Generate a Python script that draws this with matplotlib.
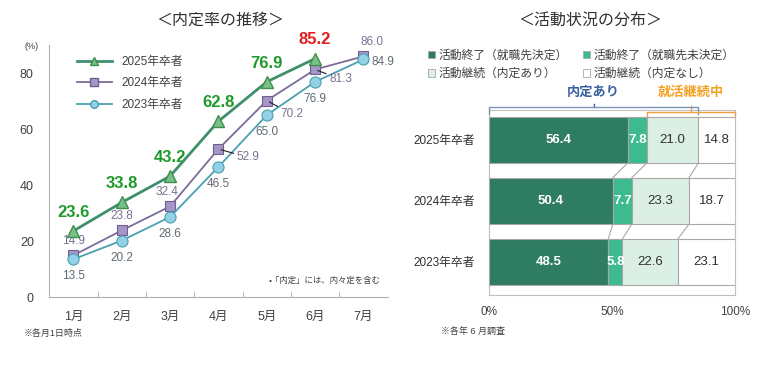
import numpy as np
import matplotlib
matplotlib.use('Agg')
import matplotlib.pyplot as plt
from matplotlib.patches import Patch
from matplotlib.lines import Line2D

plt.rcParams['font.family'] = ['Liberation Sans', 'Noto Sans CJK JP', 'DejaVu Sans']

# ---- data: left chart (内定率の推移)
months = ['1月', '2月', '3月', '4月', '5月', '6月', '7月']
rate_2025 = [23.6, 33.8, 43.2, 62.8, 76.9, 85.2]
rate_2024 = [14.9, 23.8, 32.4, 52.9, 70.2, 81.3, 86.0]
rate_2023 = [13.5, 20.2, 28.6, 46.5, 65.0, 76.9, 84.9]

# ---- data: right chart (活動状況の分布)
years = ['2025年卒者', '2024年卒者', '2023年卒者']
done_decided = [56.4, 50.4, 48.5]
done_undecided = [7.8, 7.7, 5.8]
cont_offer = [21.0, 23.3, 22.6]
cont_nooffer = [14.8, 18.7, 23.1]
status_names = ['活動終了（就職先決定）', '活動終了（就職先未決定）',
                '活動継続（内定あり）', '活動継続（内定なし）']

fig = plt.figure(figsize=(7.8, 3.7), dpi=100)
fig.patch.set_facecolor('white')

# ================= left chart
ax = fig.add_axes([0.063, 0.197, 0.434, 0.681])
x = np.arange(1, len(months) + 1)
c25, c24, c23 = '#3f8f6a', '#7d6b98', '#4aa0b0'
ax.plot(x[:len(rate_2025)], rate_2025, color=c25, lw=2.0, marker='^', ms=9,
        mfc='#78bf8a', mec='#3f8f4a', mew=1.0, zorder=4)
ax.plot(x, rate_2024, color=c24, lw=1.3, marker='s', ms=7.5,
        mfc='#a596c8', mec='#6f5f8f', mew=0.8, zorder=3)
ax.plot(x, rate_2023, color=c23, lw=1.3, marker='o', ms=8,
        mfc='#92d2e6', mec='#4aa0b0', mew=0.8, zorder=3)

ax.set_xlim(0.5, 7.5)
ax.set_ylim(0, 90)
ax.set_yticks([0, 20, 40, 60, 80])
ax.set_xticks(x)
ax.set_xticklabels(months)
ax.set_xticks(np.arange(1.5, 7.5, 1), minor=True)
ax.tick_params(axis='x', which='major', length=0, pad=10, labelsize=9, labelcolor='#404040')
ax.tick_params(axis='x', which='minor', length=4, direction='in', color='#b0b0b0')
ax.tick_params(axis='y', length=0, pad=11, labelsize=9, labelcolor='#404040')
for s in ['top', 'right']:
    ax.spines[s].set_visible(False)
ax.spines['left'].set_color('#b0b0b0')
ax.spines['bottom'].set_color('#b0b0b0')

# value labels 2025
for i, v in enumerate(rate_2025):
    col = '#e02020' if i == len(rate_2025) - 1 else '#1f9a2a'
    ax.annotate(f'{v:.1f}', (x[i], v), xytext=(0, 8), textcoords='offset points',
                ha='center', va='bottom', fontsize=12, fontweight='bold', color=col)

# 2024 labels: offsets in points
off24 = [(0, 6, 'bottom', 'center'), (0, 6, 'bottom', 'center'), (-2, 6, 'bottom', 'center'),
         (13, -6, 'center', 'left'), (10, -10, 'center', 'left'), (10, -7, 'center', 'left'),
         (6, 6, 'bottom', 'center')]
for i, v in enumerate(rate_2024):
    dx, dy, va, ha = off24[i]
    lead = None
    if i in (3, 4, 5):
        lead = dict(arrowstyle='-', color='#202020', lw=0.8, shrinkA=0, shrinkB=2)
    ax.annotate(f'{v:.1f}', (x[i], v), xytext=(dx, dy), textcoords='offset points',
                ha=ha, va=va, fontsize=8.5, color='#7b7090', arrowprops=lead)

# 2023 labels
off23 = [(0, -8, 'top', 'center'), (0, -8, 'top', 'center'), (0, -8, 'top', 'center'),
         (0, -8, 'top', 'center'), (0, -8, 'top', 'center'), (0, -8, 'top', 'center'),
         (6, -2, 'center', 'left')]
for i, v in enumerate(rate_2023):
    dx, dy, va, ha = off23[i]
    ax.annotate(f'{v:.1f}', (x[i], v), xytext=(dx, dy), textcoords='offset points',
                ha=ha, va=va, fontsize=8.5, color='#5f6b72')

leg_handles = [
    Line2D([], [], color=c25, lw=2.0, marker='^', ms=6, mfc='#78bf8a', mec='#3f8f4a'),
    Line2D([], [], color=c24, lw=1.3, marker='s', ms=5.5, mfc='#a596c8', mec='#6f5f8f'),
    Line2D([], [], color=c23, lw=1.3, marker='o', ms=5.5, mfc='#92d2e6', mec='#4aa0b0'),
]
ax.legend(leg_handles, ['2025年卒者', '2024年卒者', '2023年卒者'], loc='upper left',
          bbox_to_anchor=(0.05, 1.0), frameon=False, fontsize=8.5, handlelength=3,
          labelspacing=0.8, labelcolor='#404040')

ax.text(0.98, 0.05, '•「内定」には、内々定を含む', transform=ax.transAxes, ha='right',
        va='bottom', fontsize=6, color='#404040')
fig.text(0.032, 0.873, '(%)', fontsize=6.5, color='#404040', ha='left', va='center')
fig.text(0.282, 0.945, '＜内定率の推移＞', fontsize=11.5, ha='center', va='center', color='#303030')
fig.text(0.03, 0.098, '※各月1日時点', fontsize=6.5, color='#404040', ha='left', va='center')

# ================= right chart
bx = fig.add_axes([0.627, 0.203, 0.315, 0.500])
ypos = np.array([2, 1, 0])
parts = [done_decided, done_undecided, cont_offer, cont_nooffer]
fills = ['#2e7d63', '#3dbb8f', '#dcefe5', '#ffffff']
txtcol = ['white', 'white', '#303030', '#303030']
bh = 0.76
left = np.zeros(3)
bounds = []
for k, vals in enumerate(parts):
    vals = np.array(vals)
    bx.barh(ypos, vals, left=left, height=bh, color=fills[k], edgecolor='#a8a8a8',
            linewidth=0.8, zorder=3)
    for j in range(3):
        fw = 'bold' if k < 2 else 'normal'
        bx.text(left[j] + vals[j] / 2, ypos[j], f'{vals[j]:.1f}', ha='center', va='center',
                fontsize=9.5, color=txtcol[k], fontweight=fw, zorder=5)
    left = left + vals
    bounds.append(left.copy())

# connector lines between bars
for b in bounds[:-1]:
    for j in range(2):
        bx.plot([b[j], b[j + 1]], [ypos[j] - bh / 2, ypos[j + 1] + bh / 2],
                color='#a8a8a8', lw=0.8, zorder=2)

bx.set_xlim(0, 100)
bx.set_ylim(-0.54, 2.49)
bx.set_xticks([0, 50, 100])
bx.set_xticklabels(['0%', '50%', '100%'])
bx.set_yticks(ypos)
bx.set_yticklabels(years)
bx.tick_params(axis='x', length=0, pad=8, labelsize=8.5, labelcolor='#404040')
bx.tick_params(axis='y', length=0, pad=10, labelsize=8.5, labelcolor='#303030')
for s in bx.spines.values():
    s.set_color('#c0c0c0')

# brackets above bars
offer_end = done_decided[0] + done_undecided[0] + cont_offer[0]
cont_start = done_decided[0] + done_undecided[0]
yb1, yb2 = 2.53, 2.45
bx.plot([0, 0, offer_end, offer_end], [yb1 - 0.1, yb1, yb1, yb1 - 0.1],
        color='#7d93b8', lw=1.0, clip_on=False, zorder=6)
bx.plot([offer_end / 2] * 2, [yb1, yb1 + 0.06], color='#3a5fa0', lw=1.0, clip_on=False)
bx.plot([cont_start, cont_start, 100, 100], [yb2 - 0.06, yb2, yb2, yb2 - 0.06],
        color='#f0a040', lw=1.0, clip_on=False, zorder=6)
bx.plot([(cont_start + 100) / 2] * 2, [yb2, yb2 + 0.1], color='#f0a040', lw=1.0, clip_on=False)
bx.text(offer_end / 2, 2.78, '内定あり', ha='center', va='center', fontsize=9.5,
        fontweight='bold', color='#3a5fa0')
bx.text((cont_start + 100) / 2, 2.78, '就活継続中', ha='center', va='center', fontsize=9.5,
        fontweight='bold', color='#f5a020')

# legend row-major: reorder for matplotlib's column filling
order = [0, 2, 1, 3]
leg2 = [Patch(facecolor=fills[k], edgecolor='#a8a8a8', lw=0.6) for k in order]
fig.legend(leg2, [status_names[k] for k in order], loc='upper left',
           bbox_to_anchor=(0.535, 0.895), ncol=2,
           frameon=False, fontsize=8.5, handlelength=0.6, handleheight=0.6, handletextpad=0.3,
           columnspacing=1.3, labelspacing=0.55, labelcolor='#404040')

fig.text(0.757, 0.945, '＜活動状況の分布＞', fontsize=11.5, ha='center', va='center', color='#303030')
fig.text(0.565, 0.105, '※各年 6 月調査', fontsize=6.5, color='#404040', ha='left', va='center')

fig.savefig('out.png', dpi=100, facecolor='white')
